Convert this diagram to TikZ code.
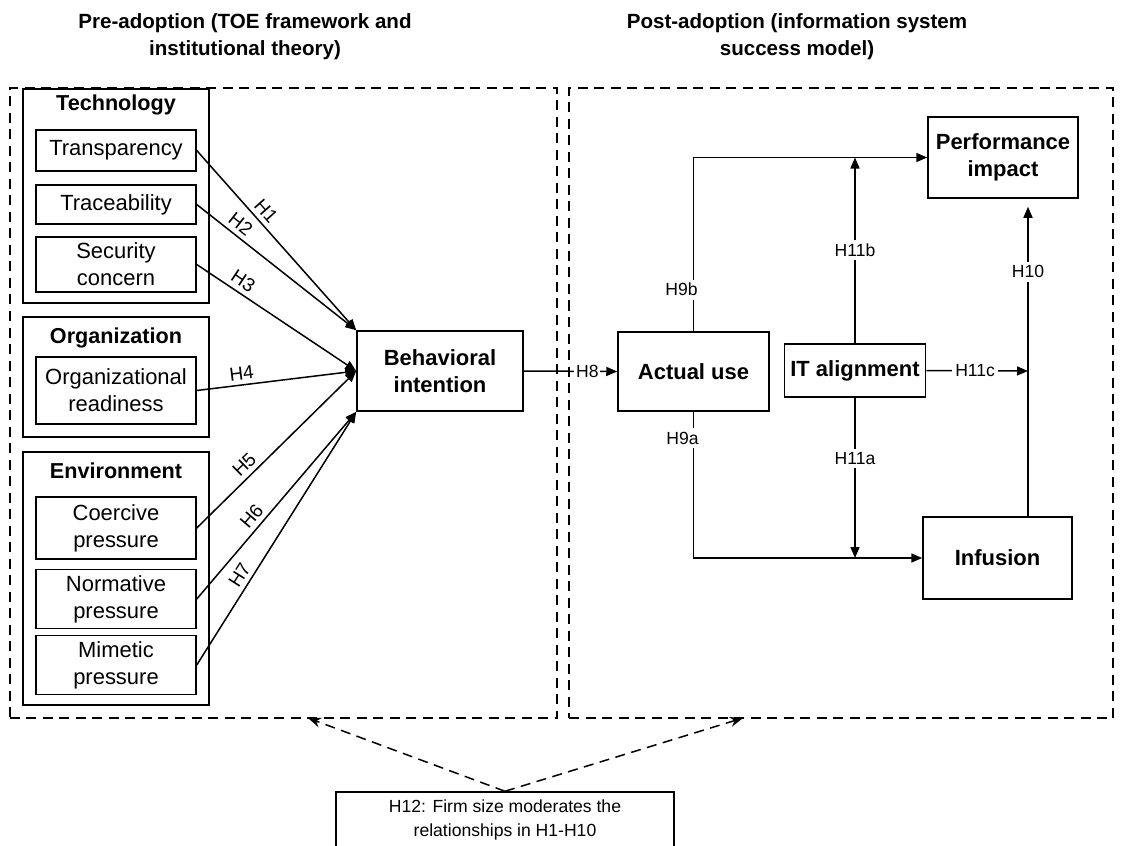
\documentclass[tikz,border=0pt]{standalone}
\usepackage{fontspec}
\setmainfont{Liberation Sans}
\usetikzlibrary{arrows.meta}

\begin{document}
\begin{tikzpicture}[x=0.2mm, y=-0.2mm]
  \tikzstyle{phasebox} = [rectangle, draw, dash pattern=on 2mm off 1.3mm, line width = 0.3mm]
  \tikzstyle{dimension} = [rectangle, draw, minimum width = 37.2mm, line width = 0.3mm]
  \tikzstyle{factor} = [rectangle, draw, minimum width = 32mm, align=center, line width = 0.3mm, font=\fontsize{12.5}{15.3}\selectfont]
  \tikzstyle{construct} = [rectangle, draw, align=center, line width = 0.3mm, font=\bfseries\fontsize{12.5}{15.3}\selectfont]
  \tikzstyle{heading} = [font=\bfseries\fontsize{12.3}{15.3}\selectfont]
  \tikzstyle{phase} = [align=center, font=\bfseries\fontsize{11.7}{15.5}\selectfont]
  \tikzstyle{hyp} = [font=\fontsize{10}{12}\selectfont]
  \tikzstyle{slopehyp} = [font=\fontsize{10.8}{12}\selectfont, sloped, above, inner sep=2.5pt]
  \tikzstyle{onhyp} = [hyp, fill=white, inner sep=2pt]
  \tikzstyle{arrow} = [-{Triangle[length=2.2mm, width=1.8mm]}, line width = 0.3mm]
  \tikzstyle{modarrow} = [-{Stealth[length=2.6mm, width=2mm]}, line width = 0.3mm, dash pattern=on 2mm off 1.3mm]

  \useasboundingbox (0,0) rectangle (1123,845);
  \clip (0,0) rectangle (1123,845);

  \node [phase] at (245,36.5) (pretitle) {Pre-adoption (TOE framework and\\institutional theory)};
  \node [phase] at (797,36.5) (posttitle) {Post-adoption (information system\\success model)};
  \node [phasebox, minimum width = 109.4mm, minimum height = 126mm] at (283.5,403) (pre) {};
  \node [phasebox, minimum width = 108.8mm, minimum height = 126mm] at (841,403) (post) {};

  \node [dimension, minimum height = 42.8mm] at (116,196) (technology) {};
  \node [dimension, minimum height = 24mm] at (116,377) (organization) {};
  \node [dimension, minimum height = 50.6mm] at (116,578.5) (environment) {};
  \node [heading] at (116,104.5) (techtitle) {Technology};
  \node [heading] at (116,338) (orgtitle) {Organization};
  \node [heading] at (116,471) (envtitle) {Environment};

  \node [factor, minimum height = 8.2mm] at (116,150.5) (transparency) {Transparency};
  \node [factor, minimum height = 7.8mm] at (116,204.5) (traceability) {Traceability};
  \node [factor, minimum height = 10.6mm] at (116,264.5) (security) {Security\\concern};
  \node [factor, minimum height = 13.4mm] at (116,390.5) (readiness) {Organizational\\readiness};
  \node [factor, minimum height = 12.4mm] at (116,528) (coercive) {Coercive\\pressure};
  \node [factor, minimum height = 10.8mm] at (116,599) (normative) {Normative\\pressure};
  \node [factor, minimum height = 10.8mm] at (116,665) (mimetic) {Mimetic\\pressure};

  \node [construct, minimum width = 33.2mm, minimum height = 16mm] at (440,371) (intention) {Behavioral\\intention};
  \node [construct, minimum width = 30.2mm, minimum height = 15.8mm] at (693.5,371.5) (actual) {Actual use};
  \node [construct, minimum width = 27.2mm, minimum height = 10.6mm] at (855,370.5) (alignment) {IT alignment};
  \node [construct, minimum width = 30mm, minimum height = 16.2mm] at (1003,157.5) (performance) {Performance\\impact};
  \node [construct, minimum width = 29.8mm, minimum height = 16.4mm] at (997.5,558) (infusion) {Infusion};
  \node [rectangle, draw, align=center, line width = 0.3mm, minimum width = 67.6mm, minimum height = 11.2mm, font=\fontsize{10}{13.6}\selectfont] at (505,820) (moderator) {H12: Firm size moderates the\\relationships in H1-H10};

  \coordinate (junction) at (1028,371);
  \coordinate (premod) at (308,718);
  \coordinate (postmod) at (743,718);

  \draw[arrow] (transparency.east) -- node[slopehyp, pos=0.38] {H1} (intention.north west);
  \draw[arrow] (traceability.east) -- node[slopehyp, pos=0.23] {H2} (intention.north west);
  \draw[arrow] (security.east) -- node[slopehyp, pos=0.25] {H3} (intention.west);
  \draw[arrow] (readiness.east) -- node[slopehyp, pos=0.29] {H4} (intention.west);
  \draw[arrow] (coercive.east) -- node[slopehyp, pos=0.35] {H5} (intention.west);
  \draw[arrow] (normative.east) -- node[slopehyp, pos=0.4] {H6} (intention.south west);
  \draw[arrow] (mimetic.east) -- node[slopehyp, pos=0.33] {H7} (intention.south west);

  \draw[arrow] (intention.east) -- node[onhyp, pos=0.68, inner sep=1pt] {H8} (actual.west);
  \draw[arrow] (actual.north) |- node[onhyp, pos=0.12, xshift=-2.4mm] {H9b} (performance.west);
  \draw[arrow] (actual.south) |- node[onhyp, pos=0.09, xshift=-2.2mm] {H9a} (infusion.west);
  \draw[arrow] (alignment.north) -- node[onhyp, pos=0.5] {H11b} (alignment.north |- performance.west);
  \draw[arrow] (alignment.south) -- node[onhyp, pos=0.38] {H11a} (alignment.south |- infusion.west);
  \draw[arrow] (alignment.east) -- node[onhyp, pos=0.48] {H11c} (junction);
  \draw[arrow, shorten >= 1.6mm] (junction |- infusion.north) -- node[onhyp, pos=0.77] {H10} (junction |- performance.south);

  \draw[modarrow] (moderator.north) -- (premod);
  \draw[modarrow] (moderator.north) -- (postmod);
\end{tikzpicture}
\end{document}
